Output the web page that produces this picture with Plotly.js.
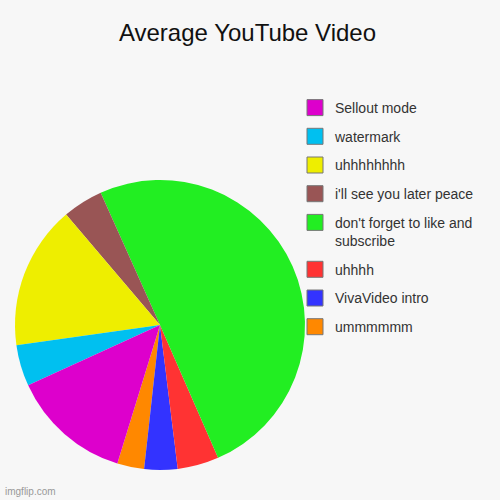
<!DOCTYPE html>
<html>
<head>
<meta charset="utf-8">
<script src="https://cdn.plot.ly/plotly-3.0.1.min.js"></script>
<style>
  html, body { margin: 0; padding: 0; background: #f7f7f7; }
  #chart { width: 500px; height: 500px; }
</style>
</head>
<body>
<div id="chart"></div>
<script>
// slices in data order (drawn counterclockwise)
let labels = ['ummmmmm', 'VivaVideo intro', 'uhhhh', "don't forget to like and<br>subscribe",
    "i'll see you later peace", 'uhhhhhhhh', 'watermark', 'Sellout mode'];
let values = [3, 3.7, 4.6, 50.1, 4.5, 16, 4.6, 13.4];
let colors = ['#ff8800', '#3333ff', '#ff3333', '#22ee22', '#995555', '#eeee00', '#00c0f0', '#dd00cc'];

const pieTrace = {
    type: 'pie',
    labels: labels,
    values: values,
    sort: false,
    direction: 'counterclockwise',
    rotation: 186.3,
    textinfo: 'none',
    hoverinfo: 'label+value',
    showlegend: false,
    marker: { colors: colors, line: { width: 0 } },
    domain: { x: [0.03, 0.61], y: [0.06, 0.64] }
};

// legend entries (boxes with a grey rim, like the original), top item = last slice
const legendTraces = labels.map((label, i) => ({
    type: 'scatter',
    mode: 'markers',
    x: [null],
    y: [null],
    name: label,
    legendgroup: 'g' + i,
    hoverinfo: 'skip',
    marker: { symbol: 'square', size: 16, color: colors[i], line: { color: '#777', width: 1 } }
})).reverse();

const layout = {
    width: 500,
    height: 500,
    paper_bgcolor: '#f7f7f7',
    plot_bgcolor: '#f7f7f7',
    margin: { l: 0, r: 0, t: 0, b: 0 },
    font: { family: 'Liberation Sans, Arial, sans-serif', color: '#333' },
    title: {
        text: 'Average YouTube Video',
        x: 0.495,
        xanchor: 'center',
        y: 0.935,
        yanchor: 'middle',
        font: { size: 24, color: '#111' }
    },
    xaxis: { visible: false },
    yaxis: { visible: false },
    showlegend: true,
    legend: {
        x: 0.59,
        y: 0.816,
        xanchor: 'left',
        yanchor: 'top',
        traceorder: 'grouped',
        valign: 'top',
        font: { size: 14, color: '#333' },
        bgcolor: 'rgba(0,0,0,0)',
        itemwidth: 30,
        tracegroupgap: 7.5
    },
    annotations: [{
        text: 'imgflip.com',
        xref: 'paper', yref: 'paper',
        x: 0.005, y: 0.002,
        xanchor: 'left', yanchor: 'bottom',
        showarrow: false,
        font: { size: 10, color: '#999' }
    }]
};

Plotly.newPlot('chart', [pieTrace].concat(legendTraces), layout, { staticPlot: true });
</script>
</body>
</html>
